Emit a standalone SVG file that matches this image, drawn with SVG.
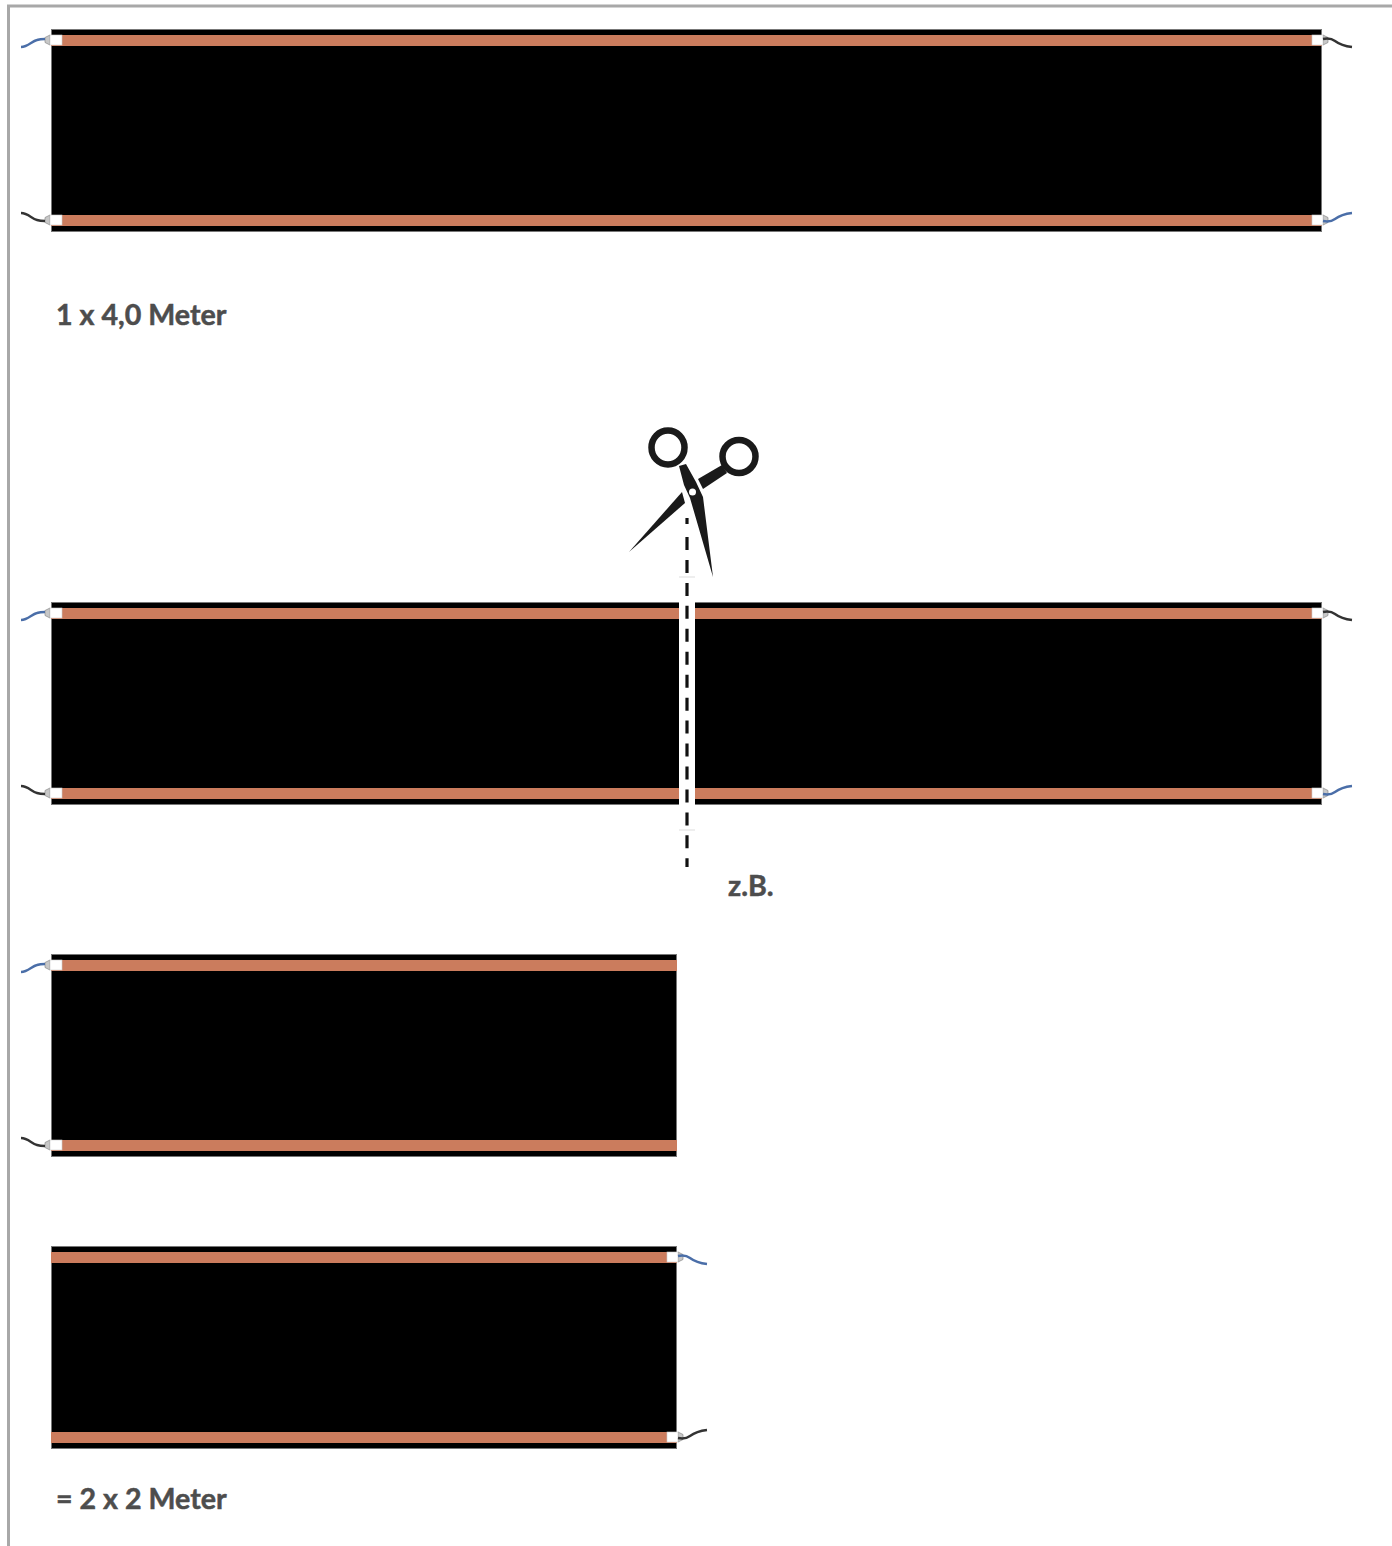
<svg xmlns="http://www.w3.org/2000/svg" width="1392" height="1546" viewBox="0 0 1392 1546">
<style>
.frame{fill:none;stroke:#a8a8a8;stroke-width:3}
.body{fill:#000;stroke:#777;stroke-width:1}
.cu{fill:#cb7c5d}
.term{fill:#fff;stroke:#ccc;stroke-width:.6}
.tip{fill:#c8c8c8;stroke:#888;stroke-width:.7}
.wb{fill:none;stroke:#4a6ea8;stroke-width:2.400}
.wk{fill:none;stroke:#333;stroke-width:2.400}
.lbl{font-family:Lato,"Open Sans",sans-serif;font-weight:700;font-size:28.600px;fill:#4d4d4d;stroke:#4d4d4d;stroke-width:.5}
.dash{stroke:#111;stroke-width:3.200;fill:none}
.sc{fill:#1a1a1a}
.ring{fill:none;stroke:#1a1a1a;stroke-width:6.500}
</style>
<defs>
<g id="endL"><path class="tip" d="M45 -2.500L50 -5V5L45 2.500Z"/><rect class="term" x="50" y="-5" width="12" height="10"/></g>
<g id="endR"><path class="tip" d="M6 -5L11 -2.500V2.500L6 5Z"/><rect class="term" x="-5" y="-5" width="11" height="10"/></g>
<path id="wireUp" d="M-24 7C-17 7-13 1-8 0C-5 -1-3 -1 0 -1"/>
<path id="wireDown" d="M-24 -7C-17 -7-13 -1-8 0C-5 1-3 1 0 1"/>
<path id="wireRDown" d="M0 -1C5 -2 8 -2 12 1C16 4 20 6 29 7"/>
<path id="wireRUp" d="M0 1C5 2 8 2 12 -1C16 -4 20 -6 29 -7"/>
</defs>
<path class="frame" d="M8.500 1546V6H1392"/>
<g id="strip-4m">
<rect class="body" x="51.500" y="29.500" width="1270" height="202"/>
<rect class="cu" x="51" y="35" width="1271" height="11"/><rect class="cu" x="51" y="215" width="1271" height="11"/>
<use href="#endL" y="40"/><use href="#endL" y="220"/><use href="#endR" x="1317" y="40"/><use href="#endR" x="1317" y="220"/>
<use href="#wireUp" class="wb" x="45" y="40"/><use href="#wireDown" class="wk" x="45" y="220"/>
<use href="#wireRDown" class="wk" x="1323" y="40"/><use href="#wireRUp" class="wb" x="1323" y="220"/>
</g>
<text id="label-4m" class="lbl" x="56" y="325">1 x 4,0 Meter</text>
<g id="strip-cut">
<rect class="body" x="51.500" y="602.500" width="1270" height="202"/>
<rect class="cu" x="51" y="608" width="1271" height="11"/><rect class="cu" x="51" y="788" width="1271" height="11"/>
<use href="#endL" y="613"/><use href="#endL" y="793"/><use href="#endR" x="1317" y="613"/><use href="#endR" x="1317" y="793"/>
<use href="#wireUp" class="wb" x="45" y="613"/><use href="#wireDown" class="wk" x="45" y="793"/>
<use href="#wireRDown" class="wk" x="1323" y="613"/><use href="#wireRUp" class="wb" x="1323" y="793"/>
<rect x="679" y="577" width="16" height="253" fill="#fff"/>
<path d="M679 577H695M679 830H695" stroke="#ddd" stroke-width="1" fill="none"/>
</g>
<g id="cut-line">
<path class="dash" d="M687 518V524"/>
<path class="dash" stroke-dasharray="13 9.950" d="M687 537V867"/>
</g>
<g id="scissors">
<ellipse class="ring" cx="668" cy="447.500" rx="16.500" ry="17"/>
<circle class="ring" cx="739" cy="456.500" r="16.500"/>
<path class="sc" d="M679 466L686 464L696 482L703 497L713 577L690 498L684 485Z"/>
<path class="sc" d="M629 552L682 492L685 503Z"/>
<path class="sc" d="M698 479L722 465L727 473L703 489Z"/>
<circle cx="692.500" cy="492" r="3.500" fill="#fff"/>
</g>
<text id="label-zb" class="lbl" x="728" y="896">z.B.</text>
<g id="strip-2m-a">
<rect class="body" x="51.500" y="954.500" width="625" height="202"/>
<rect class="cu" x="51" y="960" width="626" height="11"/><rect class="cu" x="51" y="1140" width="626" height="11"/>
<use href="#endL" y="965"/><use href="#endL" y="1145"/>
<use href="#wireUp" class="wb" x="45" y="965"/><use href="#wireDown" class="wk" x="45" y="1145"/>
</g>
<g id="strip-2m-b">
<rect class="body" x="51.500" y="1246.500" width="625" height="202"/>
<rect class="cu" x="51" y="1252" width="626" height="11"/><rect class="cu" x="51" y="1432" width="626" height="11"/>
<use href="#endR" x="672" y="1257"/><use href="#endR" x="672" y="1437"/>
<use href="#wireRDown" class="wb" x="678" y="1257"/><use href="#wireRUp" class="wk" x="678" y="1437"/>
</g>
<text id="label-2m" class="lbl" x="56" y="1509">= 2 x 2 Meter</text>
</svg>
